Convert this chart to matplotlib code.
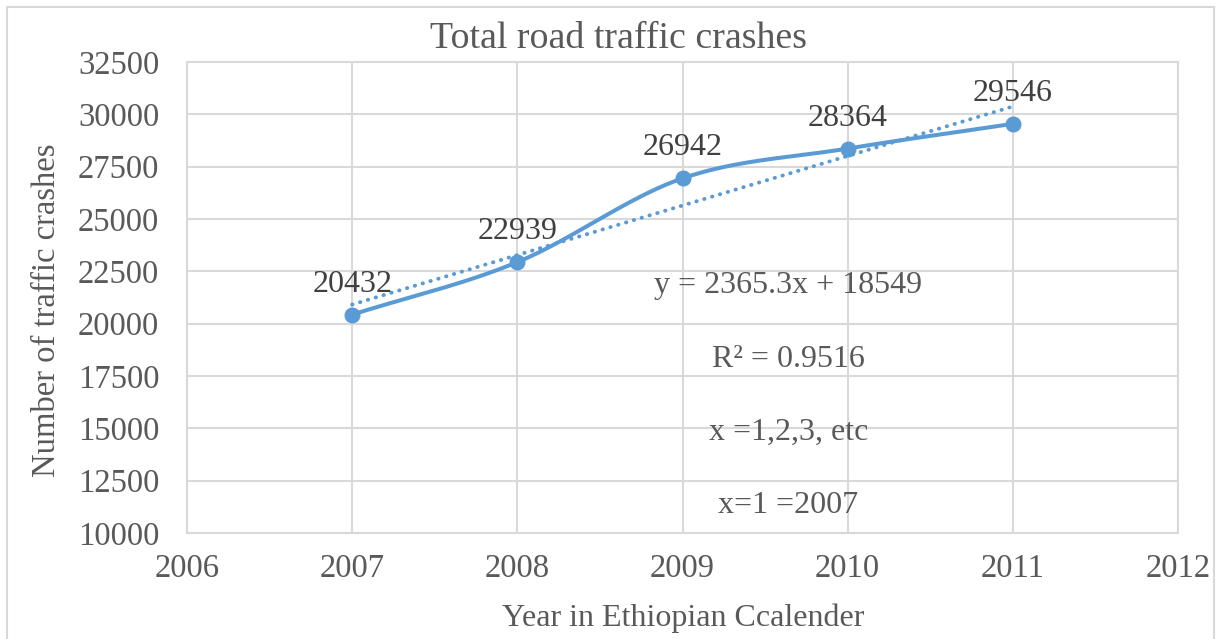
import numpy as np
import matplotlib
matplotlib.use("Agg")
import matplotlib.pyplot as plt
from matplotlib.patches import Rectangle

years = [2007, 2008, 2009, 2010, 2011]
crashes = [20432, 22939, 26942, 28364, 29546]
yticks = [10000, 12500, 15000, 17500, 20000, 22500, 25000, 27500, 30000, 32500]
xticks = [2006, 2007, 2008, 2009, 2010, 2011, 2012]
title = "Total road traffic crashes"
xlabel = "Year in Ethiopian Ccalender"
ylabel = "Number of traffic crashes"
eq_lines = ["y = 2365.3x + 18549", "R\u00b2 = 0.9516", "x =1,2,3, etc", "x=1 =2007"]

plt.rcParams['font.family'] = ['Liberation Serif', 'DejaVu Serif']
TXT = '#595959'
LBL = '#404040'
BLUE = '#5B9BD5'
GRID = '#D9D9D9'

W, H = 1221, 639
fig = plt.figure(figsize=(W / 100, H / 100), dpi=100)
AX_L, AX_R, AX_T, AX_B = 187, 1178, 62, 533
ax = fig.add_axes([AX_L / W, 1 - AX_B / H, (AX_R - AX_L) / W, (AX_B - AX_T) / H])

# outer chart border
fig.patches.append(Rectangle((7 / W, -0.01), (1214 - 7) / W, 1 - 7 / H + 0.01,
                             transform=fig.transFigure, fill=False,
                             edgecolor=GRID, linewidth=1.5))

x = np.array(years, dtype=float)
y = np.array(crashes, dtype=float)

# Catmull-Rom style smoothing (Excel smoothed line)
def smooth(xs, ys, n=40):
    px = np.concatenate([[2 * xs[0] - xs[1]], xs, [2 * xs[-1] - xs[-2]]])
    py = np.concatenate([[2 * ys[0] - ys[1]], ys, [2 * ys[-1] - ys[-2]]])
    ox, oy = [], []
    for i in range(1, len(px) - 2):
        t = np.linspace(0, 1, n)
        for arr, out in ((px, ox), (py, oy)):
            p0, p1, p2, p3 = arr[i - 1], arr[i], arr[i + 1], arr[i + 2]
            b1 = p1 + (p2 - p0) / 6
            b2 = p2 - (p3 - p1) / 6
            out.extend((1 - t) ** 3 * p1 + 3 * (1 - t) ** 2 * t * b1
                       + 3 * (1 - t) * t ** 2 * b2 + t ** 3 * p2)
    return np.array(ox), np.array(oy)

sx, sy = smooth(x, y)
ax.plot(sx, sy, color=BLUE, lw=2.9, solid_capstyle='round', zorder=3)
ax.plot(x, y, 'o', color=BLUE, ms=10.5, zorder=4)

# linear trendline with x = 1..5
idx = np.arange(1, len(years) + 1)
m, b = np.polyfit(idx, y, 1)
ax.plot(x, m * idx + b, color=BLUE, lw=2.8, linestyle=(0, (0.1, 2.0)),
        dash_capstyle='round', zorder=3)

for xi, yi in zip(x, y):
    ax.annotate(f"{int(yi)}", (xi, yi), xytext=(0, 16.5), textcoords='offset points',
                ha='center', va='baseline', fontsize=23, color=LBL)

eq_baselines = [293, 367, 440, 513]
for line, bl in zip(eq_lines, eq_baselines):
    ax.text((788.5 - AX_L) / (AX_R - AX_L), (AX_B - bl) / (AX_B - AX_T), line,
            transform=ax.transAxes, ha='center', va='baseline',
            fontsize=23, color=TXT)

ax.set_xlim(2006, 2012)
ax.set_ylim(10000, 32500)
ax.set_xticks(xticks)
ax.set_yticks(yticks)
ax.grid(True, color=GRID, lw=1.5)
ax.set_axisbelow(True)
for s in ax.spines.values():
    s.set_color(GRID)
    s.set_linewidth(1.5)
ax.tick_params(length=0, labelsize=23.5, colors=TXT)
ax.tick_params(axis='y', pad=20)
ax.tick_params(axis='x', pad=15)

fig.text(618 / W, 1 - 48 / H, title, ha='center', va='baseline',
         fontsize=27.3, color=TXT)
fig.text(683 / W, 1 - 626 / H, xlabel, ha='center', va='baseline',
         fontsize=23, color=TXT)
fig.text(55 / W, 1 - 310 / H, ylabel, ha='center', va='baseline',
         rotation=90, rotation_mode='anchor', fontsize=23.5, color=TXT)

fig.savefig("out.png", dpi=100)
